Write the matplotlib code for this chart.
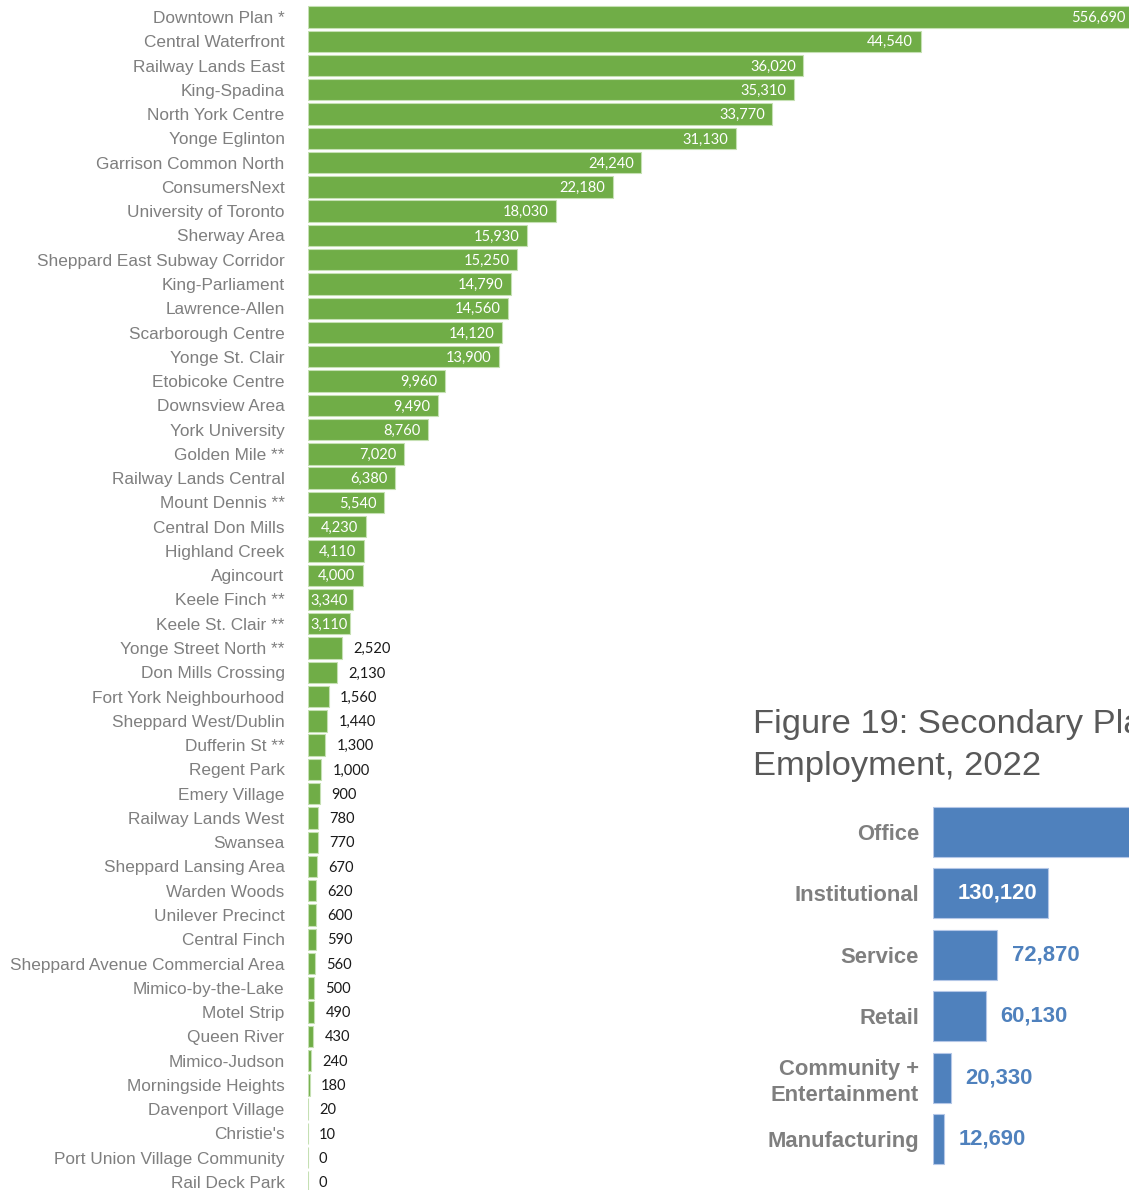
import matplotlib

matplotlib.use("Agg")

import matplotlib.pyplot as plt

# employment by secondary plan area, 2022
areas = [
    "Downtown Plan *", "Central Waterfront", "Railway Lands East", "King-Spadina",
    "North York Centre", "Yonge Eglinton", "Garrison Common North", "ConsumersNext",
    "University of Toronto", "Sherway Area", "Sheppard East Subway Corridor",
    "King-Parliament", "Lawrence-Allen", "Scarborough Centre", "Yonge St. Clair",
    "Etobicoke Centre", "Downsview Area", "York University", "Golden Mile **",
    "Railway Lands Central", "Mount Dennis **", "Central Don Mills", "Highland Creek",
    "Agincourt", "Keele Finch **", "Keele St. Clair **", "Yonge Street North **",
    "Don Mills Crossing", "Fort York Neighbourhood", "Sheppard West/Dublin",
    "Dufferin St **", "Regent Park", "Emery Village", "Railway Lands West", "Swansea",
    "Sheppard Lansing Area", "Warden Woods", "Unilever Precinct", "Central Finch",
    "Sheppard Avenue Commercial Area", "Mimico-by-the-Lake", "Motel Strip",
    "Queen River", "Mimico-Judson", "Morningside Heights", "Davenport Village",
    "Christie's", "Port Union Village Community", "Rail Deck Park",
]
jobs = [
    556690, 44540, 36020, 35310, 33770, 31130, 24240, 22180, 18030, 15930,
    15250, 14790, 14560, 14120, 13900, 9960, 9490, 8760, 7020, 6380,
    5540, 4230, 4110, 4000, 3340, 3110, 2520, 2130, 1560, 1440,
    1300, 1000, 900, 780, 770, 670, 620, 600, 590, 560,
    500, 490, 430, 240, 180, 20, 10, 0, 0,
]

# employment by sector
sectors = ["Office", "Institutional", "Service", "Retail",
           "Community +\nEntertainment", "Manufacturing"]
sector_jobs = [677570, 130120, 72870, 60130, 20330, 12690]

GREEN = "#70ad47"
BLUE = "#4f81bd"
GREY = "#7f7f7f"
W, H = 1129, 1190

fig = plt.figure(figsize=(W / 100, H / 100), dpi=100)

# --- green chart ---
ax = fig.add_axes([307.5 / W, 0, 1 - 307.5 / W, 1])
xmax = 59670
px_per_job = (W - 307.5) / xmax
ypos = list(range(len(areas)))
ax.barh(ypos, jobs, height=0.88, color=GREEN, edgecolor="#c5e0b3", linewidth=0.8)
ax.set_xlim(0, xmax)
ax.set_ylim(48.33, -0.70)
ax.set_yticks(ypos)
ax.set_yticklabels(areas, fontsize=12.4, color=GREY, fontfamily="Liberation Sans")
ax.tick_params(axis="y", length=0, pad=16.5)
ax.set_xticks([])
for s in ax.spines.values():
    s.set_visible(False)
ax.patch.set_alpha(0)

lbl = dict(textcoords="offset points", va="center", fontsize=10.5, fontfamily="Lato")
for i, v in enumerate(jobs):
    txt = f"{v:,}"
    if v > xmax:
        ax.annotate(txt, (xmax * 0.999, i), xytext=(-2, -0.8), ha="right", color="white", **lbl)
    elif v >= 3000 and v * px_per_job < 50:
        # short bar: keep the label inside, pinned to the bar start
        ax.annotate(txt, (0, i), xytext=(1.8, -0.8), ha="left", color="white", **lbl)
    elif v >= 3000:
        ax.annotate(txt, (v, i), xytext=(-5.5, -0.8), ha="right", color="white", **lbl)
    else:
        ax.annotate(txt, (v, i), xytext=(8, -0.8), ha="left", color="#1a1a1a", **lbl)

# --- blue chart ---
bx = fig.add_axes([933 / W, 0, 1 - 933 / W, 390 / H])
bmax = 222700
bpos = list(range(len(sectors)))
bx.barh(bpos, sector_jobs, height=0.815, color=BLUE, edgecolor="#b4c7e7", linewidth=0.8)
bx.set_xlim(0, bmax)
bx.set_ylim(5.83, -0.521)
bx.set_yticks(bpos)
bx.set_yticklabels(sectors, fontsize=15.8, color=GREY, fontweight="bold",
                   fontfamily="Liberation Sans", linespacing=1.3)
bx.tick_params(axis="y", length=0, pad=10)
bx.set_xticks([])
for s in bx.spines.values():
    s.set_visible(False)
bx.patch.set_alpha(0)

for i, v in enumerate(sector_jobs):
    if v > bmax:
        continue
    txt = f"{v:,}"
    if v > 100000:
        bx.annotate(txt, (v, i), xytext=(-7.7, 0), textcoords="offset points",
                    ha="right", va="center", color="white", fontsize=15.8,
                    fontweight="bold", fontfamily="Liberation Sans")
    else:
        bx.annotate(txt, (v, i), xytext=(10.5, 0), textcoords="offset points",
                    ha="left", va="center", color=BLUE, fontsize=15.8,
                    fontweight="bold", fontfamily="Liberation Sans")

fig.text(753 / W, 1 - 733 / H, "Figure 19: Secondary Plan Areas", fontsize=24.8,
         color="#595959", fontfamily="Liberation Sans", va="baseline")
fig.text(753 / W, 1 - 775 / H, "Employment, 2022", fontsize=24.8,
         color="#595959", fontfamily="Liberation Sans", va="baseline")

fig.savefig("out.png", dpi=100)
plt.close()
